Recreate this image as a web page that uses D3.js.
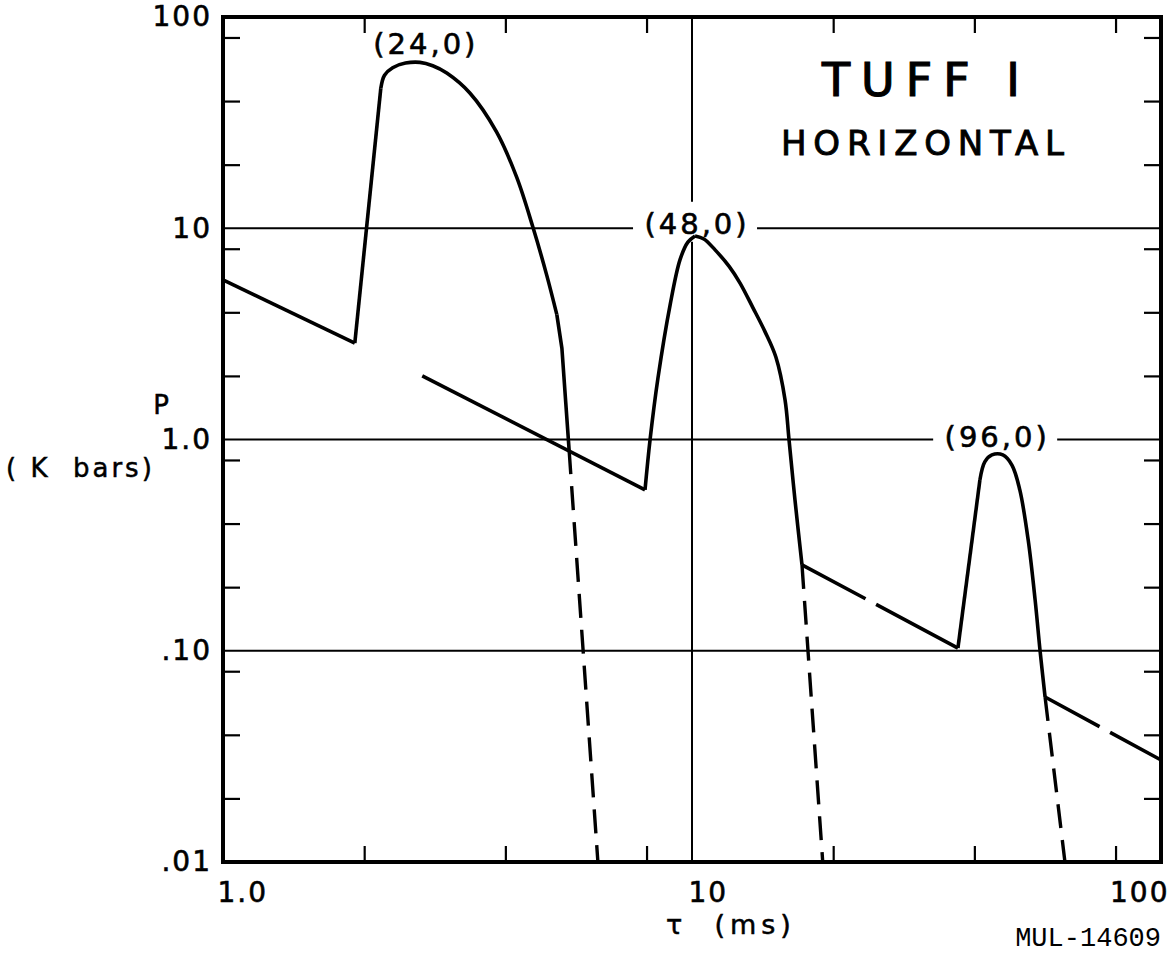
<!DOCTYPE html>
<html><head><meta charset="utf-8">
<script src="https://cdn.jsdelivr.net/npm/d3@7"></script>
<style>
body{margin:0;background:#fff}
text{font-family:"DejaVu Sans",sans-serif;fill:#000}
</style>
</head><body>
<svg id="c" width="1174" height="955"></svg>
<script>
// ---- data ----
const xMajor = [1, 10, 100];
const xMajorLabels = ["1.0", "10", "100"];
const xMinor = [2, 4, 8, 20, 40, 80];
const yMajor = [0.01, 0.1, 1, 10, 100];
const yMajorLabels = [".01", ".10", "1.0", "10", "100"];
const yMinor = [0.02, 0.04, 0.08, 0.2, 0.4, 0.8, 2, 4, 8, 20, 40, 80];
const gridX = [10];
const gridY = [0.1, 1, 10];

// solid decay lines (between pulses)
const decay1 = [[1.0, 5.7], [1.91, 2.86]];
const decay2 = [[2.66, 2.0], [7.94, 0.577]];
const decay3 = [[17.16, 0.255], [36.9, 0.103]];
const decay4 = [[56.6, 0.0604], [100, 0.0304]];
// pulses: straight rise + smooth crest/decay + steep tail
const pulse1Rise = [[1.91, 2.86], [2.17, 46]];
const pulse1Crest = [[2.17, 46], [2.21, 53], [2.3, 57.5], [2.45, 60.5], [2.63, 61], [2.8, 58.8], [3.0, 54.3], [3.36, 43.7], [3.83, 28.6], [4.23, 17.4], [4.58, 10.1], [4.90, 6.0], [5.15, 3.9]];
const pulse1Tail = [[5.15, 3.9], [5.28, 2.7], [5.38, 1.5], [5.47, 0.89]];
const pulse2Rise = [[7.94, 0.577], [8.14, 1.0], [8.46, 1.95], [8.98, 4.33], [9.43, 7.1], [9.8, 8.6], [10.15, 9.2]];
const pulse2Crest = [[10.15, 9.2], [10.6, 8.9], [11.2, 7.9], [12.0, 6.6], [12.66, 5.5], [13.49, 4.2], [14.3, 3.25], [15.1, 2.45], [15.79, 1.54], [16.1, 1.0], [16.58, 0.517], [17.16, 0.255]];
const pulse3Rise = [[36.9, 0.103], [41.1, 0.643]];
const pulse3Crest = [[41.1, 0.643], [42.1, 0.783], [43.6, 0.845], [46.0, 0.845], [48.1, 0.757], [50.0, 0.577], [52.1, 0.334], [53.9, 0.174], [55.2, 0.101], [56.6, 0.0604]];
// dashed cut-offs
const cut1 = [[5.47, 0.89], [6.30, 0.01]];
const cut2 = [[17.16, 0.255], [19.0, 0.01]];
const cut3 = [[56.6, 0.0604], [62.4, 0.01]];

const peakLabels = [
  {text: "(24,0)", x: 2.68, y: 75},
  {text: "(48,0)", x: 10.15, y: 10.5},
  {text: "(96,0)", x: 44.3, y: 1.03}
];

// ---- layout ----
const svg = d3.select("#c");
const L = 223, R = 1161, T = 17, B = 862;
const x = d3.scaleLog().domain([1, 100]).range([L, R]);
const y = d3.scaleLog().domain([0.01, 100]).range([B, T]);

const line = d3.line().x(d => x(d[0])).y(d => y(d[1]));
const smooth = d3.line().x(d => x(d[0])).y(d => y(d[1])).curve(d3.curveCatmullRom.alpha(0.5));

// gridlines
svg.append("g").selectAll("line").data(gridY).join("line")
  .attr("x1", L).attr("x2", R).attr("y1", d => y(d)).attr("y2", d => y(d))
  .attr("stroke", "#000").attr("stroke-width", 2);
svg.append("g").selectAll("line").data(gridX).join("line")
  .attr("x1", d => x(d)).attr("x2", d => x(d)).attr("y1", T).attr("y2", B)
  .attr("stroke", "#000").attr("stroke-width", 2);

// peak labels with white knock-out boxes
const pl = svg.append("g").selectAll("g").data(peakLabels).join("g")
  .attr("transform", d => `translate(${x(d.x)},${y(d.y)})`);
pl.append("rect").attr("x", -62).attr("y", -22).attr("width", 124).attr("height", 40).attr("fill", "#fff");
pl.append("text").attr("text-anchor", "middle").attr("dy", "0.36em").attr("dx", 2)
  .style("font-size", "29px").style("letter-spacing", "3px")
  .attr("stroke", "#000").attr("stroke-width", 0.6).text(d => d.text);

// axes (inward ticks)
const tickStyle = g => { g.select(".domain").remove(); g.selectAll("line").attr("stroke", "#000").attr("stroke-width", 2.2); g.selectAll("text").remove(); };
svg.append("g").attr("transform", `translate(0,${B})`).call(d3.axisBottom(x).tickValues(xMinor).tickSize(-16)).call(tickStyle);
svg.append("g").attr("transform", `translate(0,${T})`).call(d3.axisTop(x).tickValues(xMinor).tickSize(-16)).call(tickStyle);
svg.append("g").attr("transform", `translate(${L},0)`).call(d3.axisLeft(y).tickValues(yMinor).tickSize(-17)).call(tickStyle);
svg.append("g").attr("transform", `translate(${R},0)`).call(d3.axisRight(y).tickValues(yMinor).tickSize(-17)).call(tickStyle);

// frame
svg.append("rect").attr("x", L).attr("y", T).attr("width", R - L).attr("height", B - T)
  .attr("fill", "none").attr("stroke", "#000").attr("stroke-width", 4);

// tick labels
const yl = svg.append("g").attr("transform", `translate(${L},0)`)
  .call(d3.axisLeft(y).tickValues(yMajor).tickSize(0).tickPadding(11).tickFormat((d, i) => yMajorLabels[i]));
yl.select(".domain").remove();
yl.selectAll("text").style("font-size", "28px").style("letter-spacing", "2px").style("font-family", "DejaVu Sans")
  .attr("stroke", "#000").attr("stroke-width", 0.6);

const xl = svg.append("g").attr("transform", `translate(0,${B})`)
  .call(d3.axisBottom(x).tickValues(xMajor).tickSize(0).tickPadding(20).tickFormat((d, i) => xMajorLabels[i]));
xl.select(".domain").remove();
xl.selectAll("text").style("font-size", "28px").style("letter-spacing", "2px").style("font-family", "DejaVu Sans")
  .attr("stroke", "#000").attr("stroke-width", 0.6)
  .attr("text-anchor", (d, i) => i === 2 ? "end" : "start")
  .attr("dx", (d, i) => i === 0 ? -6 : i === 1 ? -4 : 8);

// curves
const curves = svg.append("g").attr("fill", "none").attr("stroke", "#000").attr("stroke-width", 3.6).attr("stroke-linejoin", "round");
curves.append("path").attr("d", line(decay1));
curves.append("path").attr("d", line(decay2));
curves.append("path").attr("d", line(decay3)).attr("stroke-dasharray", "72 12 200");
curves.append("path").attr("d", line(decay4)).attr("stroke-dasharray", "62 12 200");
[pulse1Rise, pulse1Tail, pulse3Rise].forEach(p => curves.append("path").attr("d", line(p)));
[pulse1Crest, pulse2Rise, pulse2Crest, pulse3Crest].forEach(p => curves.append("path").attr("d", smooth(p)));
[cut1, cut2, cut3].forEach(c => curves.append("path").attr("d", line(c)).attr("stroke-dasharray", "24 12").attr("stroke-width", 3.4));

// titles
svg.append("text").attr("x", 822).attr("y", 96)
  .style("font-size", "46px").style("letter-spacing", "11px")
  .attr("stroke", "#000").attr("stroke-width", 1.2).attr("xml:space", "preserve").text("TUFF I");
svg.append("text").attr("x", 781).attr("y", 155)
  .style("font-size", "34px").style("letter-spacing", "6.8px")
  .attr("stroke", "#000").attr("stroke-width", 0.9).text("HORIZONTAL");

// axis titles
svg.append("text").attr("x", 161).attr("y", 414).attr("text-anchor", "middle").style("font-size", "26px")
  .attr("stroke", "#000").attr("stroke-width", 0.5).text("P");
svg.append("text").attr("x", 6).attr("y", 477).style("font-size", "26px")
  .attr("stroke", "#000").attr("stroke-width", 0.5)
  .style("letter-spacing", "3px").attr("xml:space", "preserve").text("( K  bars)");
svg.append("text").attr("x", 666).attr("y", 934).style("font-size", "27px")
  .attr("stroke", "#000").attr("stroke-width", 0.5)
  .style("letter-spacing", "5px").attr("xml:space", "preserve").text("τ  (ms)");
svg.append("text").attr("x", 1161).attr("y", 946).attr("text-anchor", "end")
  .style("font-family", "Liberation Mono, monospace").style("font-size", "27px").text("MUL-14609");
</script>
</body></html>
